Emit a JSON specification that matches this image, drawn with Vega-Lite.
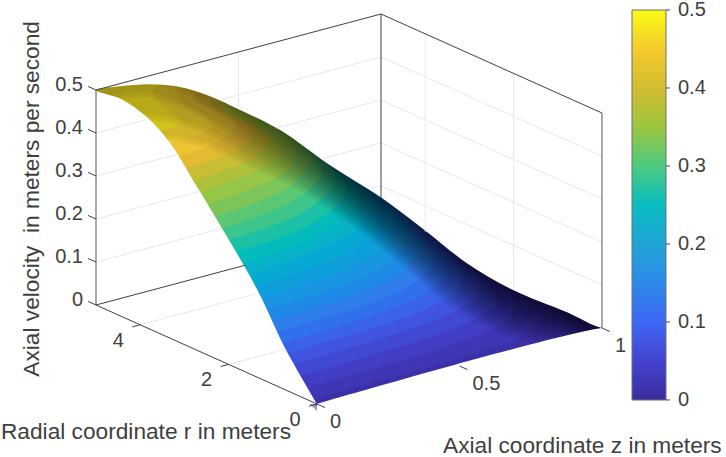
{
"$schema":"https://vega.github.io/schema/vega-lite/v6.json",
"width":726,"height":457,"padding":0,
"autosize":{"type":"none"},
"config":{"view":{"stroke":null},"text":{"font":"Liberation Sans","fontSize":20,"color":"#404040"}},
"data":{"values":[
{"part":"band","id":0.01,"r":0,"z":0,"u":0},{"part":"band","id":0.01,"r":0,"z":1,"u":0},{"part":"band","id":0.01,"r":0,"z":1.06,"u":0.733},{"part":"band","id":0.01,"r":6,"z":0,"u":0.64},{"part":"band","id":0.01,"r":6,"z":0,"u":0.314},
{"part":"band","id":0.03,"r":0.14,"z":0,"u":0.02},{"part":"band","id":0.03,"r":0.17,"z":0.4,"u":0.02},{"part":"band","id":0.03,"r":0.22,"z":0.6,"u":0.02},{"part":"band","id":0.03,"r":0.39,"z":0.8,"u":0.02},{"part":"band","id":0.03,"r":0.75,"z":0.9,"u":0.02},{"part":"band","id":0.03,"r":1.36,"z":0.95,"u":0.02},{"part":"band","id":0.03,"r":2.25,"z":0.97,"u":0.02},{"part":"band","id":0.03,"r":0,"z":1.06,"u":0.733},{"part":"band","id":0.03,"r":6,"z":0,"u":0.64},{"part":"band","id":0.03,"r":6,"z":0,"u":0.314},
{"part":"band","id":0.05,"r":0.28,"z":0,"u":0.04},{"part":"band","id":0.05,"r":0.375,"z":0.5,"u":0.04},{"part":"band","id":0.05,"r":0.56,"z":0.7,"u":0.04},{"part":"band","id":0.05,"r":0.785,"z":0.8,"u":0.04},{"part":"band","id":0.05,"r":1.39,"z":0.9,"u":0.04},{"part":"band","id":0.05,"r":2.03,"z":0.93,"u":0.04},{"part":"band","id":0.05,"r":2.4,"z":0.94,"u":0.04},{"part":"band","id":0.05,"r":0,"z":1.06,"u":0.733},{"part":"band","id":0.05,"r":6,"z":0,"u":0.64},{"part":"band","id":0.05,"r":6,"z":0,"u":0.314},
{"part":"band","id":0.07,"r":0.43,"z":0,"u":0.06},{"part":"band","id":0.07,"r":0.575,"z":0.5,"u":0.06},{"part":"band","id":0.07,"r":0.82,"z":0.7,"u":0.06},{"part":"band","id":0.07,"r":1.1,"z":0.8,"u":0.06},{"part":"band","id":0.07,"r":2.2,"z":0.9,"u":0.06},{"part":"band","id":0.07,"r":2.5,"z":0.91,"u":0.06},{"part":"band","id":0.07,"r":0,"z":1.06,"u":0.733},{"part":"band","id":0.07,"r":6,"z":0,"u":0.64},{"part":"band","id":0.07,"r":6,"z":0,"u":0.314},
{"part":"band","id":0.09,"r":0.575,"z":0,"u":0.08},{"part":"band","id":0.09,"r":0.76,"z":0.5,"u":0.08},{"part":"band","id":0.09,"r":1.05,"z":0.7,"u":0.08},{"part":"band","id":0.09,"r":1.48,"z":0.8,"u":0.08},{"part":"band","id":0.09,"r":1.98,"z":0.85,"u":0.08},{"part":"band","id":0.09,"r":2.65,"z":0.885,"u":0.08},{"part":"band","id":0.09,"r":0,"z":1.06,"u":0.733},{"part":"band","id":0.09,"r":6,"z":0,"u":0.64},{"part":"band","id":0.09,"r":6,"z":0,"u":0.314},
{"part":"band","id":0.11,"r":0.725,"z":0,"u":0.1},{"part":"band","id":0.11,"r":0.91,"z":0.5,"u":0.1},{"part":"band","id":0.11,"r":1.3,"z":0.7,"u":0.1},{"part":"band","id":0.11,"r":1.9,"z":0.8,"u":0.1},{"part":"band","id":0.11,"r":2.55,"z":0.85,"u":0.1},{"part":"band","id":0.11,"r":2.85,"z":0.864,"u":0.1},{"part":"band","id":0.11,"r":0,"z":1.06,"u":0.733},{"part":"band","id":0.11,"r":6,"z":0,"u":0.64},{"part":"band","id":0.11,"r":6,"z":0,"u":0.314},
{"part":"band","id":0.13,"r":0.83,"z":0,"u":0.12},{"part":"band","id":0.13,"r":1.06,"z":0.5,"u":0.12},{"part":"band","id":0.13,"r":1.57,"z":0.7,"u":0.12},{"part":"band","id":0.13,"r":2.34,"z":0.8,"u":0.12},{"part":"band","id":0.13,"r":3.1,"z":0.848,"u":0.12},{"part":"band","id":0.13,"r":0,"z":1.06,"u":0.733},{"part":"band","id":0.13,"r":6,"z":0,"u":0.64},{"part":"band","id":0.13,"r":6,"z":0,"u":0.314},
{"part":"band","id":0.15,"r":0.94,"z":0,"u":0.14},{"part":"band","id":0.15,"r":1.23,"z":0.5,"u":0.14},{"part":"band","id":0.15,"r":1.87,"z":0.7,"u":0.14},{"part":"band","id":0.15,"r":2.78,"z":0.8,"u":0.14},{"part":"band","id":0.15,"r":3.3,"z":0.83,"u":0.14},{"part":"band","id":0.15,"r":0,"z":1.06,"u":0.733},{"part":"band","id":0.15,"r":6,"z":0,"u":0.64},{"part":"band","id":0.15,"r":6,"z":0,"u":0.314},
{"part":"band","id":0.17,"r":1.06,"z":0,"u":0.16},{"part":"band","id":0.17,"r":1.42,"z":0.5,"u":0.16},{"part":"band","id":0.17,"r":2.18,"z":0.7,"u":0.16},{"part":"band","id":0.17,"r":3.25,"z":0.8,"u":0.16},{"part":"band","id":0.17,"r":3.4,"z":0.807,"u":0.16},{"part":"band","id":0.17,"r":0,"z":1.06,"u":0.733},{"part":"band","id":0.17,"r":6,"z":0,"u":0.64},{"part":"band","id":0.17,"r":6,"z":0,"u":0.314},
{"part":"band","id":0.19,"r":1.19,"z":0,"u":0.18},{"part":"band","id":0.19,"r":1.6,"z":0.5,"u":0.18},{"part":"band","id":0.19,"r":2.5,"z":0.7,"u":0.18},{"part":"band","id":0.19,"r":3.42,"z":0.78,"u":0.18},{"part":"band","id":0.19,"r":3.5,"z":0.783,"u":0.18},{"part":"band","id":0.19,"r":0,"z":1.06,"u":0.733},{"part":"band","id":0.19,"r":6,"z":0,"u":0.64},{"part":"band","id":0.19,"r":6,"z":0,"u":0.314},
{"part":"band","id":0.21,"r":1.325,"z":0,"u":0.2},{"part":"band","id":0.21,"r":1.8,"z":0.5,"u":0.2},{"part":"band","id":0.21,"r":2.8,"z":0.7,"u":0.2},{"part":"band","id":0.21,"r":3.65,"z":0.763,"u":0.2},{"part":"band","id":0.21,"r":0,"z":1.06,"u":0.733},{"part":"band","id":0.21,"r":6,"z":0,"u":0.64},{"part":"band","id":0.21,"r":6,"z":0,"u":0.314},
{"part":"band","id":0.23,"r":1.465,"z":0,"u":0.22},{"part":"band","id":0.23,"r":2.02,"z":0.5,"u":0.22},{"part":"band","id":0.23,"r":3.15,"z":0.7,"u":0.22},{"part":"band","id":0.23,"r":3.8,"z":0.741,"u":0.22},{"part":"band","id":0.23,"r":0,"z":1.06,"u":0.733},{"part":"band","id":0.23,"r":6,"z":0,"u":0.64},{"part":"band","id":0.23,"r":6,"z":0,"u":0.314},
{"part":"band","id":0.25,"r":1.6,"z":0,"u":0.24},{"part":"band","id":0.25,"r":2.23,"z":0.5,"u":0.24},{"part":"band","id":0.25,"r":3.0,"z":0.65,"u":0.24},{"part":"band","id":0.25,"r":3.85,"z":0.715,"u":0.24},{"part":"band","id":0.25,"r":0,"z":1.06,"u":0.733},{"part":"band","id":0.25,"r":6,"z":0,"u":0.64},{"part":"band","id":0.25,"r":6,"z":0,"u":0.314},
{"part":"band","id":0.27,"r":1.75,"z":0,"u":0.26},{"part":"band","id":0.27,"r":1.95,"z":0.3,"u":0.26},{"part":"band","id":0.27,"r":2.45,"z":0.5,"u":0.26},{"part":"band","id":0.27,"r":2.93,"z":0.6,"u":0.26},{"part":"band","id":0.27,"r":3.9,"z":0.685,"u":0.26},{"part":"band","id":0.27,"r":0,"z":1.06,"u":0.733},{"part":"band","id":0.27,"r":6,"z":0,"u":0.64},{"part":"band","id":0.27,"r":6,"z":0,"u":0.314},
{"part":"band","id":0.29,"r":1.91,"z":0,"u":0.28},{"part":"band","id":0.29,"r":2.13,"z":0.3,"u":0.28},{"part":"band","id":0.29,"r":2.66,"z":0.5,"u":0.28},{"part":"band","id":0.29,"r":3.2,"z":0.6,"u":0.28},{"part":"band","id":0.29,"r":3.75,"z":0.65,"u":0.28},{"part":"band","id":0.29,"r":0,"z":1.06,"u":0.733},{"part":"band","id":0.29,"r":6,"z":0,"u":0.64},{"part":"band","id":0.29,"r":6,"z":0,"u":0.314},
{"part":"band","id":0.31,"r":2.075,"z":0,"u":0.3},{"part":"band","id":0.31,"r":2.31,"z":0.3,"u":0.3},{"part":"band","id":0.31,"r":2.875,"z":0.5,"u":0.3},{"part":"band","id":0.31,"r":3.52,"z":0.6,"u":0.3},{"part":"band","id":0.31,"r":3.8,"z":0.62,"u":0.3},{"part":"band","id":0.31,"r":0,"z":1.06,"u":0.733},{"part":"band","id":0.31,"r":6,"z":0,"u":0.64},{"part":"band","id":0.31,"r":6,"z":0,"u":0.314},
{"part":"band","id":0.33,"r":2.23,"z":0,"u":0.32},{"part":"band","id":0.33,"r":2.49,"z":0.3,"u":0.32},{"part":"band","id":0.33,"r":3.1,"z":0.5,"u":0.32},{"part":"band","id":0.33,"r":3.7,"z":0.58,"u":0.32},{"part":"band","id":0.33,"r":0,"z":1.06,"u":0.733},{"part":"band","id":0.33,"r":6,"z":0,"u":0.64},{"part":"band","id":0.33,"r":6,"z":0,"u":0.314},
{"part":"band","id":0.35,"r":2.39,"z":0,"u":0.34},{"part":"band","id":0.35,"r":2.66,"z":0.3,"u":0.34},{"part":"band","id":0.35,"r":3.34,"z":0.5,"u":0.34},{"part":"band","id":0.35,"r":3.8,"z":0.55,"u":0.34},{"part":"band","id":0.35,"r":0,"z":1.06,"u":0.733},{"part":"band","id":0.35,"r":6,"z":0,"u":0.64},{"part":"band","id":0.35,"r":6,"z":0,"u":0.314},
{"part":"band","id":0.37,"r":2.555,"z":0,"u":0.36},{"part":"band","id":0.37,"r":2.83,"z":0.3,"u":0.36},{"part":"band","id":0.37,"r":3.12,"z":0.4,"u":0.36},{"part":"band","id":0.37,"r":3.7,"z":0.5,"u":0.36},{"part":"band","id":0.37,"r":3.95,"z":0.52,"u":0.36},{"part":"band","id":0.37,"r":0,"z":1.06,"u":0.733},{"part":"band","id":0.37,"r":6,"z":0,"u":0.64},{"part":"band","id":0.37,"r":6,"z":0,"u":0.314},
{"part":"band","id":0.39,"r":2.715,"z":0,"u":0.38},{"part":"band","id":0.39,"r":3.03,"z":0.3,"u":0.38},{"part":"band","id":0.39,"r":3.33,"z":0.4,"u":0.38},{"part":"band","id":0.39,"r":4.5,"z":0.49,"u":0.38},{"part":"band","id":0.39,"r":0,"z":1.06,"u":0.733},{"part":"band","id":0.39,"r":6,"z":0,"u":0.64},{"part":"band","id":0.39,"r":6,"z":0,"u":0.314},
{"part":"band","id":0.41,"r":2.875,"z":0,"u":0.4},{"part":"band","id":0.41,"r":3.02,"z":0.2,"u":0.4},{"part":"band","id":0.41,"r":3.2,"z":0.3,"u":0.4},{"part":"band","id":0.41,"r":3.62,"z":0.4,"u":0.4},{"part":"band","id":0.41,"r":5,"z":0.447,"u":0.4},{"part":"band","id":0.41,"r":0,"z":1.06,"u":0.733},{"part":"band","id":0.41,"r":6,"z":0,"u":0.64},{"part":"band","id":0.41,"r":6,"z":0,"u":0.314},
{"part":"band","id":0.43,"r":3.05,"z":0,"u":0.42},{"part":"band","id":0.43,"r":3.2,"z":0.2,"u":0.42},{"part":"band","id":0.43,"r":3.43,"z":0.3,"u":0.42},{"part":"band","id":0.43,"r":3.75,"z":0.36,"u":0.42},{"part":"band","id":0.43,"r":5,"z":0.4,"u":0.42},{"part":"band","id":0.43,"r":0,"z":1.06,"u":0.733},{"part":"band","id":0.43,"r":6,"z":0,"u":0.64},{"part":"band","id":0.43,"r":6,"z":0,"u":0.314},
{"part":"band","id":0.45,"r":3.22,"z":0,"u":0.44},{"part":"band","id":0.45,"r":3.4,"z":0.2,"u":0.44},{"part":"band","id":0.45,"r":3.75,"z":0.3,"u":0.44},{"part":"band","id":0.45,"r":5,"z":0.346,"u":0.44},{"part":"band","id":0.45,"r":0,"z":1.06,"u":0.733},{"part":"band","id":0.45,"r":6,"z":0,"u":0.64},{"part":"band","id":0.45,"r":6,"z":0,"u":0.314},
{"part":"band","id":0.47,"r":3.42,"z":0,"u":0.46},{"part":"band","id":0.47,"r":3.47,"z":0.1,"u":0.46},{"part":"band","id":0.47,"r":3.65,"z":0.2,"u":0.46},{"part":"band","id":0.47,"r":5,"z":0.283,"u":0.46},{"part":"band","id":0.47,"r":0,"z":1.06,"u":0.733},{"part":"band","id":0.47,"r":6,"z":0,"u":0.64},{"part":"band","id":0.47,"r":6,"z":0,"u":0.314},
{"part":"band","id":0.49,"r":3.68,"z":0,"u":0.48},{"part":"band","id":0.49,"r":3.75,"z":0.1,"u":0.48},{"part":"band","id":0.49,"r":5,"z":0.2,"u":0.48},{"part":"band","id":0.49,"r":0,"z":1.06,"u":0.733},{"part":"band","id":0.49,"r":6,"z":0,"u":0.64},{"part":"band","id":0.49,"r":6,"z":0,"u":0.314},

{"part":"shade","id":1,"r":5,"z":0,"u":0.372},{"part":"shade","id":1,"r":5,"z":0.19,"u":0.352},{"part":"shade","id":1,"r":5,"z":0.365,"u":0.312},{"part":"shade","id":1,"r":4.99,"z":0.54,"u":0.231},{"part":"shade","id":1,"r":4.77,"z":0.68,"u":0.16},{"part":"shade","id":1,"r":4.28,"z":0.78,"u":0.086},{"part":"shade","id":1,"r":3.6,"z":0.85,"u":0.014},{"part":"shade","id":1,"r":2.86,"z":0.91,"u":-0.062},{"part":"shade","id":1,"r":2.1,"z":0.97,"u":-0.101},{"part":"shade","id":1,"r":1.18,"z":1,"u":-0.087},{"part":"shade","id":1,"r":0,"z":1,"u":-0.028},{"part":"shade","id":1,"r":0,"z":1.06,"u":0.733},{"part":"shade","id":1,"r":6,"z":0,"u":0.64},
{"part":"shade","id":2,"r":5,"z":0,"u":0.423},{"part":"shade","id":2,"r":5,"z":0.19,"u":0.403},{"part":"shade","id":2,"r":5,"z":0.365,"u":0.345},{"part":"shade","id":2,"r":4.99,"z":0.54,"u":0.254},{"part":"shade","id":2,"r":4.77,"z":0.68,"u":0.177},{"part":"shade","id":2,"r":4.28,"z":0.78,"u":0.099},{"part":"shade","id":2,"r":3.6,"z":0.85,"u":0.029},{"part":"shade","id":2,"r":2.86,"z":0.91,"u":-0.046},{"part":"shade","id":2,"r":2.1,"z":0.97,"u":-0.087},{"part":"shade","id":2,"r":1.18,"z":1,"u":-0.075},{"part":"shade","id":2,"r":0,"z":1,"u":-0.023},{"part":"shade","id":2,"r":0,"z":1.06,"u":0.733},{"part":"shade","id":2,"r":6,"z":0,"u":0.64},
{"part":"shade","id":3,"r":5,"z":0,"u":0.475},{"part":"shade","id":3,"r":5,"z":0.19,"u":0.455},{"part":"shade","id":3,"r":5,"z":0.365,"u":0.378},{"part":"shade","id":3,"r":4.99,"z":0.54,"u":0.277},{"part":"shade","id":3,"r":4.77,"z":0.68,"u":0.195},{"part":"shade","id":3,"r":4.28,"z":0.78,"u":0.112},{"part":"shade","id":3,"r":3.6,"z":0.85,"u":0.043},{"part":"shade","id":3,"r":2.86,"z":0.91,"u":-0.03},{"part":"shade","id":3,"r":2.1,"z":0.97,"u":-0.072},{"part":"shade","id":3,"r":1.18,"z":1,"u":-0.064},{"part":"shade","id":3,"r":0,"z":1,"u":-0.019},{"part":"shade","id":3,"r":0,"z":1.06,"u":0.733},{"part":"shade","id":3,"r":6,"z":0,"u":0.64},
{"part":"shade","id":4,"r":5,"z":0,"u":0.51},{"part":"shade","id":4,"r":5,"z":0.19,"u":0.49},{"part":"shade","id":4,"r":5,"z":0.365,"u":0.411},{"part":"shade","id":4,"r":4.99,"z":0.54,"u":0.3},{"part":"shade","id":4,"r":4.77,"z":0.68,"u":0.212},{"part":"shade","id":4,"r":4.28,"z":0.78,"u":0.125},{"part":"shade","id":4,"r":3.6,"z":0.85,"u":0.058},{"part":"shade","id":4,"r":2.86,"z":0.91,"u":-0.014},{"part":"shade","id":4,"r":2.1,"z":0.97,"u":-0.058},{"part":"shade","id":4,"r":1.18,"z":1,"u":-0.052},{"part":"shade","id":4,"r":0,"z":1,"u":-0.014},{"part":"shade","id":4,"r":0,"z":1.06,"u":0.733},{"part":"shade","id":4,"r":6,"z":0,"u":0.64},
{"part":"shade","id":5,"r":5,"z":0,"u":0.51},{"part":"shade","id":5,"r":5,"z":0.19,"u":0.49},{"part":"shade","id":5,"r":5,"z":0.365,"u":0.44},{"part":"shade","id":5,"r":4.99,"z":0.54,"u":0.324},{"part":"shade","id":5,"r":4.77,"z":0.68,"u":0.23},{"part":"shade","id":5,"r":4.28,"z":0.78,"u":0.138},{"part":"shade","id":5,"r":3.6,"z":0.85,"u":0.072},{"part":"shade","id":5,"r":2.86,"z":0.91,"u":0.002},{"part":"shade","id":5,"r":2.1,"z":0.97,"u":-0.043},{"part":"shade","id":5,"r":1.18,"z":1,"u":-0.041},{"part":"shade","id":5,"r":0,"z":1,"u":-0.009},{"part":"shade","id":5,"r":0,"z":1.06,"u":0.733},{"part":"shade","id":5,"r":6,"z":0,"u":0.64},
{"part":"shade","id":6,"r":5,"z":0,"u":0.51},{"part":"shade","id":6,"r":5,"z":0.19,"u":0.49},{"part":"shade","id":6,"r":5,"z":0.365,"u":0.44},{"part":"shade","id":6,"r":4.99,"z":0.54,"u":0.347},{"part":"shade","id":6,"r":4.77,"z":0.68,"u":0.247},{"part":"shade","id":6,"r":4.28,"z":0.78,"u":0.151},{"part":"shade","id":6,"r":3.6,"z":0.85,"u":0.087},{"part":"shade","id":6,"r":2.86,"z":0.91,"u":0.018},{"part":"shade","id":6,"r":2.1,"z":0.97,"u":-0.029},{"part":"shade","id":6,"r":1.18,"z":1,"u":-0.029},{"part":"shade","id":6,"r":0,"z":1,"u":-0.005},{"part":"shade","id":6,"r":0,"z":1.06,"u":0.733},{"part":"shade","id":6,"r":6,"z":0,"u":0.64},
{"part":"shade","id":7,"r":5,"z":0,"u":0.51},{"part":"shade","id":7,"r":5,"z":0.19,"u":0.49},{"part":"shade","id":7,"r":5,"z":0.365,"u":0.44},{"part":"shade","id":7,"r":4.99,"z":0.54,"u":0.36},{"part":"shade","id":7,"r":4.77,"z":0.68,"u":0.265},{"part":"shade","id":7,"r":4.28,"z":0.78,"u":0.164},{"part":"shade","id":7,"r":3.6,"z":0.85,"u":0.101},{"part":"shade","id":7,"r":2.86,"z":0.91,"u":0.034},{"part":"shade","id":7,"r":2.1,"z":0.97,"u":-0.014},{"part":"shade","id":7,"r":1.18,"z":1,"u":-0.017},{"part":"shade","id":7,"r":0,"z":1,"u":0},{"part":"shade","id":7,"r":0,"z":1.06,"u":0.733},{"part":"shade","id":7,"r":6,"z":0,"u":0.64},
{"part":"shade","id":8,"r":5,"z":0,"u":0.51},{"part":"shade","id":8,"r":5,"z":0.19,"u":0.49},{"part":"shade","id":8,"r":5,"z":0.365,"u":0.44},{"part":"shade","id":8,"r":4.99,"z":0.54,"u":0.36},{"part":"shade","id":8,"r":4.77,"z":0.68,"u":0.273},{"part":"shade","id":8,"r":4.28,"z":0.78,"u":0.177},{"part":"shade","id":8,"r":3.6,"z":0.85,"u":0.116},{"part":"shade","id":8,"r":2.86,"z":0.91,"u":0.05},{"part":"shade","id":8,"r":2.1,"z":0.97,"u":0},{"part":"shade","id":8,"r":1.18,"z":1,"u":-0.005},{"part":"shade","id":8,"r":0,"z":1,"u":0.01},{"part":"shade","id":8,"r":0,"z":1.06,"u":0.733},{"part":"shade","id":8,"r":6,"z":0,"u":0.64},

{"part":"mask","id":1,"r":0,"z":0,"u":0},{"part":"mask","id":1,"r":0.724,"z":0,"u":0.097},{"part":"mask","id":1,"r":1.29,"z":0,"u":0.194},{"part":"mask","id":1,"r":1.63,"z":0,"u":0.243},{"part":"mask","id":1,"r":2.127,"z":0,"u":0.307},{"part":"mask","id":1,"r":2.715,"z":0,"u":0.38},{"part":"mask","id":1,"r":3.33,"z":0,"u":0.454},{"part":"mask","id":1,"r":3.85,"z":0,"u":0.49},{"part":"mask","id":1,"r":4.39,"z":0,"u":0.505},{"part":"mask","id":1,"r":5,"z":0,"u":0.5},
{"part":"mask","id":1,"r":5,"z":0.084,"u":0.494},{"part":"mask","id":1,"r":5,"z":0.19,"u":0.48},{"part":"mask","id":1,"r":5,"z":0.295,"u":0.455},{"part":"mask","id":1,"r":5,"z":0.4,"u":0.415},{"part":"mask","id":1,"r":5,"z":0.5,"u":0.367},{"part":"mask","id":1,"r":4.83,"z":0.62,"u":0.305},{"part":"mask","id":1,"r":4.545,"z":0.74,"u":0.22},{"part":"mask","id":1,"r":3.82,"z":0.82,"u":0.158},{"part":"mask","id":1,"r":3.185,"z":0.88,"u":0.098},{"part":"mask","id":1,"r":2.54,"z":0.92,"u":0.048},{"part":"mask","id":1,"r":1.885,"z":0.98,"u":0.005},{"part":"mask","id":1,"r":0.79,"z":1,"u":0},{"part":"mask","id":1,"r":0,"z":1,"u":0},
{"part":"mask","id":1,"r":0,"z":1.09,"u":-0.016},{"part":"mask","id":1,"r":0,"z":1.09,"u":0.759},{"part":"mask","id":1,"r":7.2,"z":0,"u":0.62},{"part":"mask","id":1,"r":7.2,"z":0,"u":-0.332},
{"part":"mask","id":2,"r":0,"z":0,"u":0},{"part":"mask","id":2,"r":0,"z":1,"u":0},{"part":"mask","id":2,"r":0,"z":1.09,"u":-0.016},{"part":"mask","id":2,"r":0,"z":1.09,"u":-0.241},{"part":"mask","id":2,"r":0,"z":0,"u":-0.049},

{"part":"grid","id":1,"r":5,"z":0,"u":0.4},{"part":"grid","id":1,"r":5,"z":0.175,"u":0.4},
{"part":"grid","id":2,"r":5,"z":0.435,"u":0.4},{"part":"grid","id":2,"r":5,"z":1,"u":0.4},{"part":"grid","id":2,"r":0,"z":1,"u":0.4},
{"part":"grid","id":3,"r":5,"z":0,"u":0.3},{"part":"grid","id":3,"r":5,"z":0.284,"u":0.3},
{"part":"grid","id":4,"r":5,"z":0.632,"u":0.3},{"part":"grid","id":4,"r":5,"z":1,"u":0.3},{"part":"grid","id":4,"r":0,"z":1,"u":0.3},
{"part":"grid","id":5,"r":5,"z":0,"u":0.2},{"part":"grid","id":5,"r":5,"z":0.365,"u":0.2},
{"part":"grid","id":6,"r":5,"z":0.793,"u":0.2},{"part":"grid","id":6,"r":5,"z":1,"u":0.2},{"part":"grid","id":6,"r":0,"z":1,"u":0.2},
{"part":"grid","id":7,"r":5,"z":0,"u":0.1},{"part":"grid","id":7,"r":5,"z":0.442,"u":0.1},
{"part":"grid","id":8,"r":5,"z":0.96,"u":0.1},{"part":"grid","id":8,"r":5,"z":1,"u":0.1},{"part":"grid","id":8,"r":0,"z":1,"u":0.1},
{"part":"grid","id":9,"r":5,"z":0.5,"u":0.5},{"part":"grid","id":9,"r":5,"z":0.5,"u":0.367},
{"part":"grid","id":10,"r":4,"z":1,"u":0.5},{"part":"grid","id":10,"r":4,"z":1,"u":0.04},
{"part":"grid","id":11,"r":2,"z":1,"u":0.5},{"part":"grid","id":11,"r":2,"z":1,"u":0},
{"part":"grid","id":12,"r":4,"z":0,"u":0},{"part":"grid","id":12,"r":4,"z":0.405,"u":0},
{"part":"grid","id":13,"r":2,"z":0,"u":0},{"part":"grid","id":13,"r":2,"z":0.198,"u":0},

{"part":"gray","id":1,"r":5,"z":0,"u":0},{"part":"gray","id":1,"r":5,"z":0,"u":0.5},
{"part":"gray","id":2,"r":0,"z":1,"u":0},{"part":"gray","id":2,"r":0,"z":1,"u":0.5},

{"part":"dark","id":1,"r":5,"z":0,"u":0.5},{"part":"dark","id":1,"r":5,"z":1,"u":0.5},{"part":"dark","id":1,"r":0,"z":1,"u":0.5},
{"part":"dark","id":2,"r":5,"z":1,"u":0.5},{"part":"dark","id":2,"r":5,"z":1,"u":0.072},
{"part":"dark","id":3,"r":5,"z":0,"u":0},{"part":"dark","id":3,"r":0,"z":0,"u":0},
{"part":"dark","id":4,"r":5,"z":0,"u":0},{"part":"dark","id":4,"r":5,"z":0.523,"u":0},
{"part":"dark","id":5,"r":5,"z":0,"u":0},{"part":"dark","id":5,"r":5.18,"z":0,"u":0},
{"part":"dark","id":6,"r":5,"z":0,"u":0.1},{"part":"dark","id":6,"r":5.18,"z":0,"u":0.1},
{"part":"dark","id":7,"r":5,"z":0,"u":0.2},{"part":"dark","id":7,"r":5.18,"z":0,"u":0.2},
{"part":"dark","id":8,"r":5,"z":0,"u":0.3},{"part":"dark","id":8,"r":5.18,"z":0,"u":0.3},
{"part":"dark","id":9,"r":5,"z":0,"u":0.4},{"part":"dark","id":9,"r":5.18,"z":0,"u":0.4},
{"part":"dark","id":10,"r":5,"z":0,"u":0.5},{"part":"dark","id":10,"r":5.18,"z":0,"u":0.5},
{"part":"dark","id":11,"r":4,"z":0,"u":0},{"part":"dark","id":11,"r":4,"z":-0.028,"u":0},
{"part":"dark","id":12,"r":2,"z":0,"u":0},{"part":"dark","id":12,"r":2,"z":-0.028,"u":0},
{"part":"dark","id":13,"r":0,"z":0,"u":0},{"part":"dark","id":13,"r":0,"z":-0.028,"u":0},
{"part":"dark","id":14,"r":0,"z":0,"u":0},{"part":"dark","id":14,"r":-0.18,"z":0,"u":0},
{"part":"dark","id":15,"r":0,"z":0.5,"u":0},{"part":"dark","id":15,"r":-0.18,"z":0.5,"u":0},
{"part":"dark","id":16,"r":0,"z":1,"u":0},{"part":"dark","id":16,"r":-0.18,"z":1,"u":0},
{"part":"dark","id":17,"r":0,"z":1.2246,"u":-0.207},{"part":"dark","id":17,"r":0,"z":1.2386,"u":-0.2095},
{"part":"dark","id":18,"r":0,"z":1.2246,"u":-0.0257},{"part":"dark","id":18,"r":0,"z":1.2386,"u":-0.0282},
{"part":"dark","id":19,"r":0,"z":1.2246,"u":0.1557},{"part":"dark","id":19,"r":0,"z":1.2386,"u":0.1532},
{"part":"dark","id":20,"r":0,"z":1.2246,"u":0.3371},{"part":"dark","id":20,"r":0,"z":1.2386,"u":0.3346},
{"part":"dark","id":21,"r":0,"z":1.2246,"u":0.5185},{"part":"dark","id":21,"r":0,"z":1.2386,"u":0.516},
{"part":"dark","id":22,"r":0,"z":1.2246,"u":0.6998},{"part":"dark","id":22,"r":0,"z":1.2386,"u":0.6974},

{"part":"tu","label":"0","r":5,"z":0,"u":0},{"part":"tu","label":"0.1","r":5,"z":0,"u":0.1},{"part":"tu","label":"0.2","r":5,"z":0,"u":0.2},{"part":"tu","label":"0.3","r":5,"z":0,"u":0.3},{"part":"tu","label":"0.4","r":5,"z":0,"u":0.4},{"part":"tu","label":"0.5","r":5,"z":0,"u":0.5},
{"part":"tr","label":"0","r":0,"z":0,"u":0},{"part":"tr","label":"2","r":2,"z":0,"u":0},{"part":"tr","label":"4","r":4,"z":0,"u":0},
{"part":"tz","label":"0","r":0,"z":0,"u":0},{"part":"tz","label":"0.5","r":0,"z":0.5,"u":0},{"part":"tz","label":"1","r":0,"z":1,"u":0},
{"part":"t1","label":"Radial coordinate r in meters","r":7.15,"z":0,"u":-0.395},
{"part":"t2","label":"Axial coordinate z in meters","r":0,"z":1.42,"u":-0.349},
{"part":"t3","label":"Axial velocity\u00a0 in meters per second","r":6.45,"z":0,"u":0.18}
]},
"transform":[
{"calculate":"317+285*datum.z-44.2*datum.r","as":"px"},
{"calculate":"404-76*datum.z-19.8*datum.r-430*datum.u","as":"py"}
],
"encoding":{
"x":{"field":"px","type":"quantitative","scale":{"domain":[0,726]},"axis":null},
"y":{"field":"py","type":"quantitative","scale":{"domain":[457,0]},"axis":null}
},
"layer":[
{"transform":[{"filter":"datum.part=='band'"}],
"mark":{"type":"line","filled":true,"order":false,"interpolate":"catmull-rom"},
"encoding":{"color":{"field":"id","type":"quantitative",
"scale":{"domain":[0,0.05,0.1,0.15,0.2,0.25,0.3,0.35,0.4,0.425,0.45,0.475,0.5],
"range":["#3a2c9e","#4343d0","#3e67f5","#2d8ae8","#21a4d6","#08bcc0","#4dca80","#9cc63f","#d2bc30","#fcb434","#f5cb2e","#f3e028","#f8fb14"]},
"legend":{"orient":"none","legendX":632,"legendY":10,"title":null,"gradientLength":390,"gradientThickness":34,"values":[0,0.1,0.2,0.3,0.4,0.5],"labelFont":"Liberation Sans","labelFontSize":20,"labelColor":"#404040","labelOffset":12,"labelOverlap":false,"gradientStrokeColor":"#707070","gradientStrokeWidth":1,"format":"~g","encode":{"labels":{"update":{"baseline":{"value":"middle"}}}}}}}},
{"transform":[{"filter":"datum.part=='band'"}],
"mark":{"type":"line","filled":true,"order":false,"interpolate":"catmull-rom","yOffset":3,"fillOpacity":0.6},
"encoding":{"color":{"field":"id","type":"quantitative","legend":null}}},
{"transform":[{"filter":"datum.part=='band'"}],
"mark":{"type":"line","filled":true,"order":false,"interpolate":"catmull-rom","yOffset":7,"fillOpacity":0.5},
"encoding":{"color":{"field":"id","type":"quantitative","legend":null}}},
{"transform":[{"filter":"datum.part=='shade'"}],
"mark":{"type":"line","filled":true,"order":false,"interpolate":"catmull-rom","fill":"#000000","fillOpacity":0.042},
"encoding":{"detail":{"field":"id"}}},
{"transform":[{"filter":"datum.part=='shade'"}],
"mark":{"type":"line","filled":true,"order":false,"interpolate":"catmull-rom","fill":"#000000","fillOpacity":0.042,"yOffset":-3},
"encoding":{"detail":{"field":"id"}}},
{"transform":[{"filter":"datum.part=='shade'"}],
"mark":{"type":"line","filled":true,"order":false,"interpolate":"catmull-rom","fill":"#000000","fillOpacity":0.042,"yOffset":3},
"encoding":{"detail":{"field":"id"}}},
{"transform":[{"filter":"datum.part=='mask'"}],
"mark":{"type":"line","filled":true,"order":false,"interpolate":"catmull-rom","fill":"#ffffff"},
"encoding":{"detail":{"field":"id"}}},
{"transform":[{"filter":"datum.part=='grid'"}],
"mark":{"type":"line","order":false,"stroke":"#e8e8e8","strokeWidth":1},
"encoding":{"detail":{"field":"id"}}},
{"transform":[{"filter":"datum.part=='gray'"}],
"mark":{"type":"line","order":false,"stroke":"#8c8c8c","strokeWidth":1.5},
"encoding":{"detail":{"field":"id"}}},
{"transform":[{"filter":"datum.part=='dark'"}],
"mark":{"type":"line","order":false,"stroke":"#404040","strokeWidth":1},
"encoding":{"detail":{"field":"id"}}},
{"transform":[{"filter":"datum.part=='tu'"}],
"mark":{"type":"text","align":"right","baseline":"middle","dx":-13,"dy":-5},
"encoding":{"text":{"field":"label"}}},
{"transform":[{"filter":"datum.part=='tr'"}],
"mark":{"type":"text","align":"center","baseline":"middle","dx":-22,"dy":16},
"encoding":{"text":{"field":"label"}}},
{"transform":[{"filter":"datum.part=='tz'"}],
"mark":{"type":"text","align":"left","baseline":"middle","dx":13,"dy":18},
"encoding":{"text":{"field":"label"}}},
{"transform":[{"filter":"datum.part=='t1'"}],
"mark":{"type":"text","align":"left","baseline":"middle","fontSize":22.7},
"encoding":{"text":{"field":"label"}}},
{"transform":[{"filter":"datum.part=='t2'"}],
"mark":{"type":"text","align":"right","baseline":"middle","fontSize":22.7},
"encoding":{"text":{"field":"label"}}},
{"transform":[{"filter":"datum.part=='t3'"}],
"mark":{"type":"text","align":"center","baseline":"middle","angle":270,"fontSize":22.7},
"encoding":{"text":{"field":"label"}}}
]
}
